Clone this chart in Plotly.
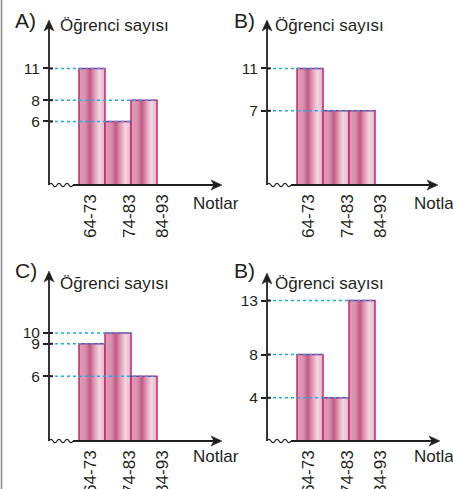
import plotly.graph_objects as go

W, H = 453, 489

categories = ["64-73", "74-83", "84-93"]
counts_a = [11, 6, 8]
counts_b = [11, 7, 7]
counts_c = [9, 10, 6]
counts_d = [8, 4, 13]
panel_labels = ["A)", "B)", "C)", "B)"]
y_title = "Öğrenci sayısı"
x_title = "Notlar"

FONT = "Liberation Sans, Arial, sans-serif"
INK = "#231f20"
EDGE = "#c8246e"
DOT = "#1eaaf0"
BAR_SCALE = [[0.0, "#dc9fb7"], [0.25, "#d98fac"], [0.42, "#c25883"],
             [0.58, "#dc98b2"], [0.78, "#f3d6e1"], [1.0, "#e5b3c6"]]

# pixel geometry of each panel: y-axis x, x-axis y, arrow tops, px per unit
panels = [
    dict(counts=counts_a, ax=49, ay=185, top=20, right=222, sy=10.6, lab=(13, 20), yt=(58, 26), xt=(191, 203)),
    dict(counts=counts_b, ax=267, ay=185, top=20, right=438, sy=10.6, lab=(232, 20), yt=(273, 26), xt=(412, 203)),
    dict(counts=counts_c, ax=49, ay=441, top=271, right=222, sy=10.8, lab=(13, 270), yt=(58, 283), xt=(191, 456)),
    dict(counts=counts_d, ax=267, ay=441, top=273, right=440, sy=10.8, lab=(232, 270), yt=(273, 283), xt=(412, 456)),
]
BAR_PX = 26.0
GAP_PX = 30.0
tick_pos = [-0.05, 1.45, 2.7]


def pp(x, y):
    # pixel -> paper coordinates for path strings
    return f"{x / W:.5f},{1 - y / H:.5f}"


fig = go.Figure()
shapes = []
annotations = []

for n, p in enumerate(panels, start=1):
    xa = "x" if n == 1 else f"x{n}"
    ya = "y" if n == 1 else f"y{n}"
    xmin = -0.5 - GAP_PX / BAR_PX
    xmax = xmin + (p["right"] - p["ax"]) / BAR_PX
    ymax = (p["ay"] - p["top"]) / p["sy"]
    counts = p["counts"]

    # bars as gradient-filled polygons
    for i, v in enumerate(counts):
        fig.add_trace(go.Scatter(
            x=[i - 0.5, i - 0.5, i + 0.5, i + 0.5, i - 0.5],
            y=[0, v, v, 0, 0],
            mode="lines", fill="toself",
            fillgradient=dict(type="horizontal", colorscale=BAR_SCALE),
            line=dict(color=EDGE, width=1.5),
            xaxis=xa, yaxis=ya, showlegend=False, hoverinfo="skip",
        ))

    # dotted guide lines to the right edge of the last bar with that value
    for v in sorted(set(counts)):
        last = max(i for i, c in enumerate(counts) if c == v)
        shapes.append(dict(type="line", xref=xa, yref=ya, x0=xmin, x1=last + 0.5,
                           y0=v, y1=v, line=dict(color=DOT, width=1.5, dash="dot")))
        # inner half of the tick mark
        shapes.append(dict(type="line", xref=xa, yref=ya, x0=xmin, x1=xmin + 4 / BAR_PX,
                           y0=v, y1=v, line=dict(color=INK, width=2)))

    # axes drawn in page space: squiggle break, straight lines, arrowheads
    ax0, ay0 = p["ax"], p["ay"]
    path = "M " + pp(ax0, ay0)
    for k in range(6):
        sgn = -1 if k % 2 == 0 else 1
        path += " Q " + pp(ax0 + (k + 0.5) * 4, ay0 + sgn * 3.2) + " " + pp(ax0 + (k + 1) * 4, ay0)
    shapes.append(dict(type="path", xref="paper", yref="paper", path=path,
                       line=dict(color=INK, width=1.3)))
    shapes.append(dict(type="path", xref="paper", yref="paper",
                       path="M " + pp(ax0 + 24, ay0) + " L " + pp(p["right"] - 6, ay0),
                       line=dict(color=INK, width=1.8)))
    shapes.append(dict(type="path", xref="paper", yref="paper",
                       path="M " + pp(ax0, ay0) + " L " + pp(ax0, p["top"] + 6),
                       line=dict(color=INK, width=1.8)))
    tx, ty = p["right"], ay0
    shapes.append(dict(type="path", xref="paper", yref="paper",
                       path="M " + pp(tx, ty) + " L " + pp(tx - 11, ty - 5) + " L " + pp(tx - 8, ty)
                            + " L " + pp(tx - 11, ty + 5) + " Z",
                       fillcolor=INK, line=dict(color=INK, width=0.5)))
    tx, ty = ax0, p["top"]
    shapes.append(dict(type="path", xref="paper", yref="paper",
                       path="M " + pp(tx, ty) + " L " + pp(tx - 5, ty + 11) + " L " + pp(tx, ty + 8)
                            + " L " + pp(tx + 5, ty + 11) + " Z",
                       fillcolor=INK, line=dict(color=INK, width=0.5)))

    # texts
    annotations.append(dict(xref="paper", yref="paper", x=p["lab"][0] / W, y=1 - p["lab"][1] / H,
                            xanchor="left", yanchor="middle", text=panel_labels[n - 1],
                            showarrow=False, font=dict(size=21, color=INK, family=FONT)))
    annotations.append(dict(xref="paper", yref="paper", x=p["yt"][0] / W, y=1 - p["yt"][1] / H,
                            xanchor="left", yanchor="middle", text=y_title,
                            showarrow=False, font=dict(size=17, color=INK, family=FONT)))
    annotations.append(dict(xref="paper", yref="paper", x=p["xt"][0] / W, y=1 - p["xt"][1] / H,
                            xanchor="left", yanchor="middle", text=x_title,
                            showarrow=False, font=dict(size=17, color=INK, family=FONT)))

    fig.layout[f"xaxis{'' if n == 1 else n}"] = dict(
        domain=[p["ax"] / W, p["right"] / W], range=[xmin, xmax], anchor=ya,
        showgrid=False, zeroline=False, showline=False, automargin=False,
        tickmode="array", tickvals=tick_pos, ticktext=categories, tickangle=-90,
        ticks="", ticklabelstandoff=5,
        tickfont=dict(size=17, color=INK, family=FONT), fixedrange=True,
    )
    fig.layout[f"yaxis{'' if n == 1 else n}"] = dict(
        domain=[1 - p["ay"] / H, 1 - p["top"] / H], range=[0, ymax], anchor=xa,
        showgrid=False, zeroline=False, showline=False, automargin=False,
        tickmode="array", tickvals=sorted(set(counts)),
        ticks="outside", ticklen=5, tickwidth=2, tickcolor=INK,
        tickfont=dict(size=15.5, color=INK, family=FONT), fixedrange=True,
    )

# grey page border on the left
shapes.append(dict(type="line", xref="paper", yref="paper", x0=1.5 / W, x1=1.5 / W, y0=0, y1=1,
                   line=dict(color="#8a8a8a", width=1.5)))

fig.update_layout(
    width=W, height=H,
    margin=dict(l=0, r=0, t=0, b=0),
    paper_bgcolor="white", plot_bgcolor="white",
    shapes=shapes, annotations=annotations,
    showlegend=False,
)

fig.write_html("out.html", config={"displayModeBar": False},
               post_script="document.body.style.margin='0';")
